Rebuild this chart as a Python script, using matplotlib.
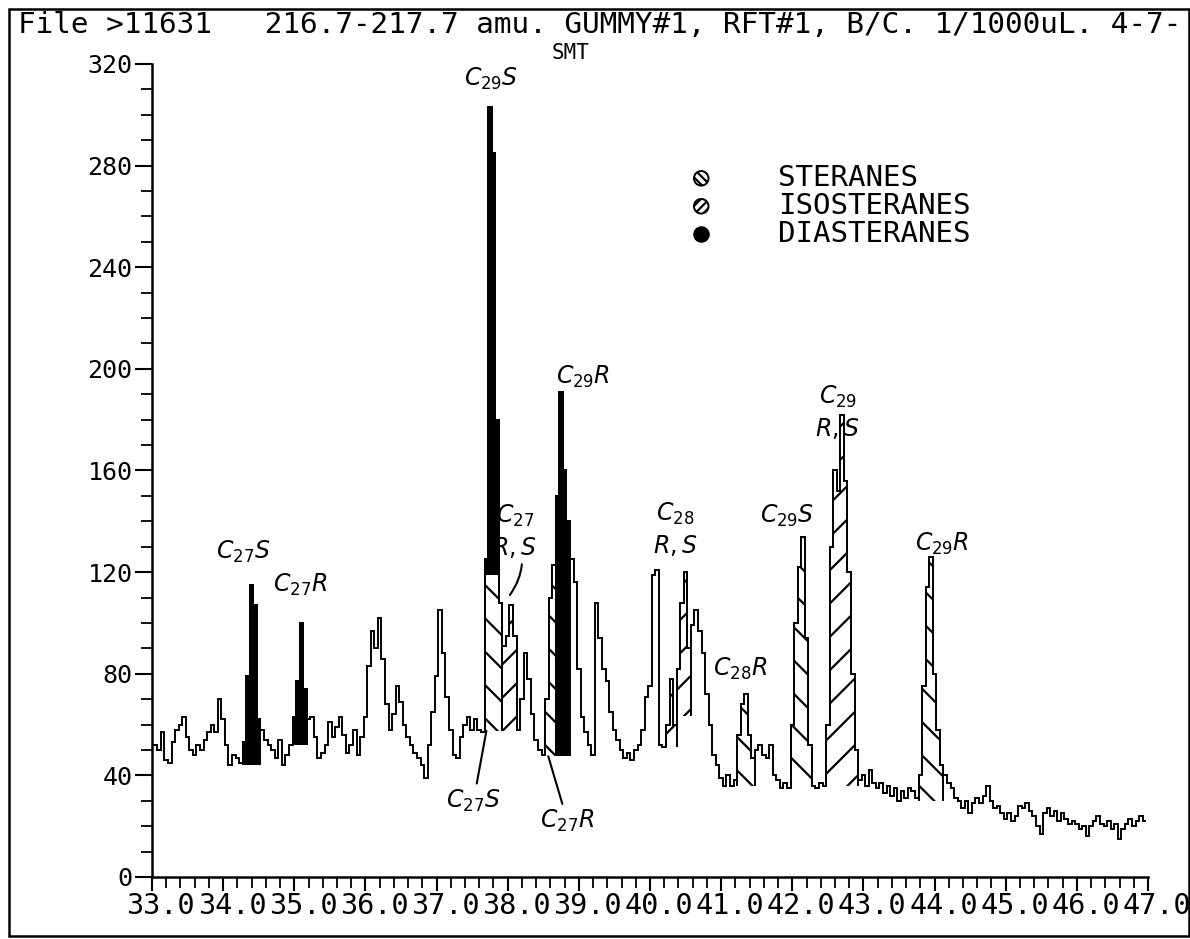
import numpy as np
import matplotlib.pyplot as plt
from matplotlib.patches import Rectangle
from matplotlib.ticker import MultipleLocator
from matplotlib.transforms import ScaledTranslation

plt.rcParams['font.family'] = ['DejaVu Sans Mono', 'DejaVu Sans']
plt.rcParams['mathtext.fontset'] = 'dejavusans'
plt.rcParams['hatch.linewidth'] = 1.6

# m/z 217 trace, one scan every 0.05 min, one row per minute
start_min = 33.0
scan_step = 0.05
abundance = np.array([
    52, 52, 50, 57, 46, 45, 53, 58, 60, 63, 55, 50, 48, 52, 50, 54, 57, 60, 57, 70,      # 33
    62, 52, 44, 48, 47, 45, 53, 79, 115, 107, 62, 58, 54, 52, 50, 47, 54, 44, 48, 52,    # 34
    63, 77, 100, 74, 62, 63, 55, 47, 49, 52, 61, 55, 59, 63, 56, 49, 52, 58, 48, 55,     # 35
    63, 83, 97, 90, 102, 86, 68, 58, 64, 75, 69, 60, 55, 52, 49, 47, 44, 39, 52, 65,     # 36
    79, 105, 88, 71, 58, 48, 47, 55, 60, 63, 58, 62, 58, 57, 125, 303, 285, 180, 108, 91,  # 37
    95, 107, 95, 58, 70, 88, 78, 64, 54, 50, 48, 70, 110, 123, 150, 191, 160, 140, 125, 116,  # 38
    82, 63, 57, 52, 48, 108, 94, 82, 77, 65, 58, 54, 50, 47, 49, 46, 50, 52, 58, 71,     # 39
    75, 119, 121, 52, 51, 60, 78, 60, 82, 108, 120, 90, 99, 105, 97, 88, 72, 60, 48, 44,  # 40
    39, 36, 40, 36, 38, 56, 68, 72, 56, 47, 50, 52, 48, 47, 52, 40, 38, 35, 37, 35,     # 41
    60, 100, 122, 134, 94, 52, 36, 35, 37, 36, 60, 130, 160, 152, 182, 156, 120, 80, 50, 38,  # 42
    40, 36, 42, 37, 35, 37, 33, 36, 32, 35, 30, 34, 31, 35, 34, 31, 40, 75, 114, 126,   # 43
    80, 58, 44, 40, 37, 35, 31, 30, 27, 30, 25, 29, 31, 29, 32, 36, 30, 27, 28, 25,     # 44
    23, 25, 22, 24, 28, 27, 29, 26, 24, 20, 17, 25, 27, 24, 26, 22, 25, 23, 21, 22,     # 45
    21, 19, 20, 16, 20, 22, 24, 21, 20, 22, 19, 21, 15, 19, 21, 23, 20, 22, 24, 22,     # 46
])
scan_time = start_min + scan_step * np.arange(len(abundance))
edges = np.append(scan_time - scan_step / 2, scan_time[-1] + scan_step / 2)

# integrated peaks: first scan, last scan, baseline, compound class
peak_start = [34.30, 35.00, 37.65, 37.95, 37.70, 38.55, 38.70, 40.25, 40.40, 41.25, 42.00, 42.50, 43.80]
peak_end = [34.50, 35.15, 37.90, 38.10, 37.85, 38.65, 38.85, 40.35, 40.55, 41.45, 42.25, 42.90, 44.10]
peak_base = [44, 52, 57.5, 57.5, 119, 47.5, 47.5, 51, 63.5, 36, 36, 36, 30]
peak_class = ['dia', 'dia', 'ster', 'iso', 'dia', 'ster', 'dia', 'iso', 'iso', 'ster', 'ster', 'iso', 'ster']

class_style = {
    'ster': dict(facecolor='white', hatch='\\'),
    'iso': dict(facecolor='white', hatch='/'),
    'dia': dict(facecolor='black', hatch=None),
}

legend_names = ['STERANES', 'ISOSTERANES', 'DIASTERANES']
legend_class = ['ster', 'iso', 'dia']
legend_hatch = ['\\\\\\\\', '////', None]

# handwritten peak names: text, time, abundance
peak_labels = [
    ('$C_{27}S$', 34.28, 128),
    ('$C_{27}R$', 35.08, 115),
    ('$C_{29}S$', 37.77, 314),
    ('$C_{29}R$', 39.06, 197),
    ('$C_{28}$\n$R,S$', 40.35, 137),
    ('$C_{28}R$', 41.27, 82),
    ('$C_{29}S$', 41.93, 142),
    ('$C_{29}$\n$R,S$', 42.64, 183),
    ('$C_{29}R$', 44.10, 131),
]

fig = plt.figure(figsize=(11.9, 9.39), dpi=100)
ax = fig.add_axes([152 / 1190, 62 / 939, 996 / 1190, 813 / 939])

ax.stairs(abundance, edges, baseline=None, color='black', lw=1.4, zorder=2)

for t0, t1, base, cls in zip(peak_start, peak_end, peak_base, peak_class):
    idx = np.flatnonzero((scan_time > t0 - 1e-6) & (scan_time < t1 + 1e-6))
    ax.stairs(abundance[idx], edges[idx[0]:idx[-1] + 2], baseline=base, fill=True,
              edgecolor='black', lw=1.4, zorder=3 if cls != 'dia' else 4,
              **class_style[cls])

for txt, t, y in peak_labels:
    ax.text(t, y, txt, ha='center', va='center', fontsize=17, linespacing=1.3)

arrow = dict(arrowstyle='-', lw=1.5, shrinkA=1, shrinkB=0)
ax.annotate('$C_{27}$\n$R,S$', xy=(38.03, 111), xytext=(38.10, 136), ha='center', va='center',
            fontsize=17, linespacing=1.3,
            arrowprops=dict(arrow, connectionstyle='arc3,rad=-0.3'))
ax.annotate('$C_{27}S$', xy=(37.70, 57.5), xytext=(37.52, 30), ha='center', va='center',
            fontsize=17, arrowprops=arrow)
ax.annotate('$C_{27}R$', xy=(38.57, 47.5), xytext=(38.84, 22), ha='center', va='center',
            fontsize=17, arrowprops=arrow)

# legend
for i, (name, cls, htch) in enumerate(zip(legend_names, legend_class, legend_hatch)):
    y = 275 - 11 * i
    ax.scatter([40.72], [y], s=110, marker='o', facecolors=class_style[cls]['facecolor'],
               edgecolors='black', linewidths=1.4, hatch=htch, zorder=5)
    ax.text(41.80, y, name, ha='left', va='center', fontsize=21)

ax.set_xlim(33, 47)
ax.set_ylim(0, 320)
ax.set_xticks(np.arange(33, 47.01, 1.0))
ax.set_xticklabels([f'{v:.1f}' for v in np.arange(33, 47.01, 1.0)])
ax.xaxis.set_minor_locator(MultipleLocator(0.2))
ax.set_yticks(np.arange(0, 321, 40))
ax.yaxis.set_minor_locator(MultipleLocator(10))
ax.tick_params(axis='x', which='major', direction='out', length=10, width=1.5, labelsize=20.5, pad=1)
ax.tick_params(axis='y', which='major', direction='out', length=12, width=1.5, labelsize=18, pad=2)
ax.tick_params(which='minor', direction='out', length=8, width=1.3)
for lbl in ax.get_xticklabels():
    lbl.set_transform(lbl.get_transform() + ScaledTranslation(0.088, 0, fig.dpi_scale_trans))
for side in ['top', 'right']:
    ax.spines[side].set_visible(False)
for side in ['left', 'bottom']:
    ax.spines[side].set_linewidth(1.8)

fig.text(18 / 1190, 1 - 25 / 939, 'File >11631   216.7-217.7 amu. GUMMY#1, RFT#1, B/C. 1/1000uL. 4-7-',
         ha='left', va='center', fontsize=21.2)
fig.text(571 / 1190, 1 - 53 / 939, 'SMT', ha='center', va='center', fontsize=15)

fig.add_artist(Rectangle((9 / 1190, 3 / 939), 1180 / 1190, 927 / 939, transform=fig.transFigure,
                         fill=False, lw=1.8, edgecolor='black'))

fig.savefig('out.png', dpi=100, facecolor='white')
